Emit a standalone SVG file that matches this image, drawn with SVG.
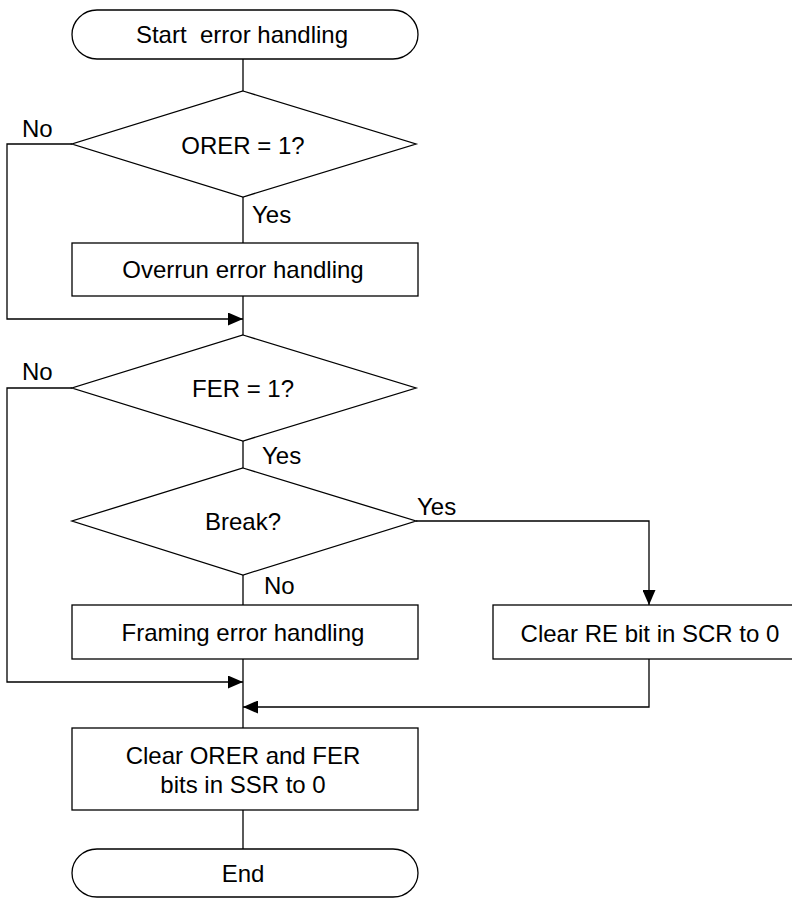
<svg xmlns="http://www.w3.org/2000/svg" width="792" height="898" viewBox="0 0 792 898">
<defs>
<style>
.s{fill:#fff;stroke:#000;stroke-width:1.3}
.c{fill:none;stroke:#000;stroke-width:1.3}
.t{font-family:"Liberation Sans",Arial,sans-serif;font-size:24px;fill:#000;white-space:pre}
.m{text-anchor:middle}
</style>
<marker id="ah" viewBox="0 0 15 13" refX="15" refY="6.5" markerWidth="15" markerHeight="13" markerUnits="userSpaceOnUse" orient="auto">
<path d="M0,0 L15,6.5 L0,13 Z" fill="#000"/>
</marker>
</defs>
<rect width="792" height="898" fill="#fff"/>
<g id="connectors">
<path class="c" d="M243,59 V91"/>
<path class="c" d="M72,144 H7 V319 H243" marker-end="url(#ah)"/>
<path class="c" d="M243,197 V243"/>
<path class="c" d="M243,296 V335"/>
<path class="c" d="M72,388 H7 V682 H243" marker-end="url(#ah)"/>
<path class="c" d="M243,441 V468"/>
<path class="c" d="M416,521 H649 V605" marker-end="url(#ah)"/>
<path class="c" d="M243,575 V605"/>
<path class="c" d="M649,659 V707 H243" marker-end="url(#ah)"/>
<path class="c" d="M243,659 V728"/>
<path class="c" d="M243,810 V849"/>
<text class="t" x="22" y="137">No</text>
<text class="t" x="252" y="223">Yes</text>
<text class="t" x="22" y="380">No</text>
<text class="t" x="262" y="464">Yes</text>
<text class="t" x="417" y="515">Yes</text>
<text class="t" x="264" y="594">No</text>
</g>
<g id="start">
<rect class="s" x="72" y="10" width="346" height="49" rx="25" ry="24.5"/>
<text class="t m" x="242" y="43" xml:space="preserve">Start  error handling</text>
</g>
<g id="orer">
<polygon class="s" points="243,91 416,144 243,197 72,144"/>
<text class="t m" x="243" y="154">ORER = 1?</text>
</g>
<g id="overrun">
<rect class="s" x="72" y="243" width="346" height="53"/>
<text class="t m" x="243" y="278">Overrun error handling</text>
</g>
<g id="fer">
<polygon class="s" points="243,335 416,388 243,441 72,388"/>
<text class="t m" x="243" y="397">FER = 1?</text>
</g>
<g id="break">
<polygon class="s" points="243,468 416,521 243,575 72,521"/>
<text class="t m" x="243" y="530">Break?</text>
</g>
<g id="framing">
<rect class="s" x="72" y="605" width="346" height="54"/>
<text class="t m" x="243" y="641">Framing error handling</text>
</g>
<g id="clearre">
<rect class="s" x="493" y="605" width="312" height="54"/>
<text class="t m" x="650" y="642">Clear RE bit in SCR to 0</text>
</g>
<g id="clearorer">
<rect class="s" x="72" y="728" width="346" height="82"/>
<text class="t m" x="243" y="764">Clear ORER and FER</text>
<text class="t m" x="243" y="793">bits in SSR to 0</text>
</g>
<g id="end">
<rect class="s" x="72" y="849" width="346" height="48" rx="25" ry="24"/>
<text class="t m" x="243" y="882">End</text>
</g>
</svg>
